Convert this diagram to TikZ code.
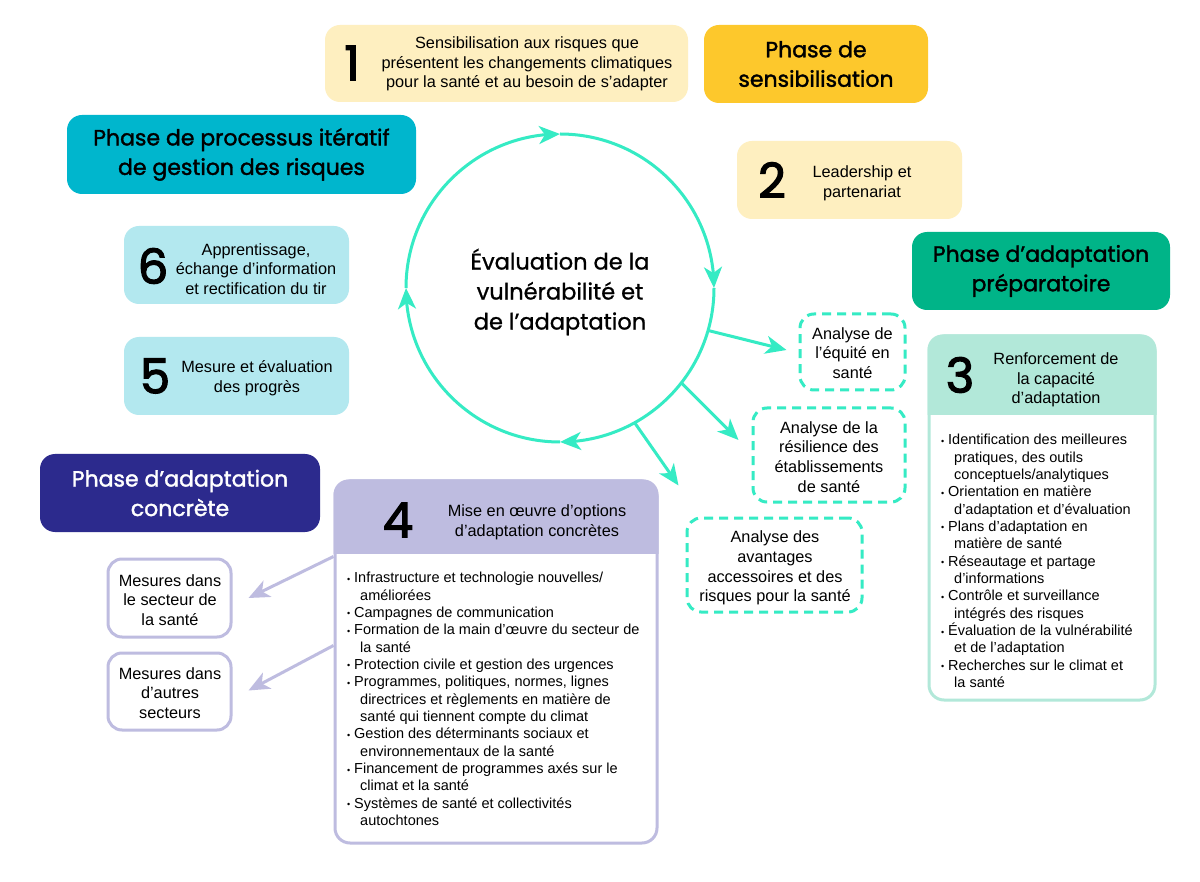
\documentclass[tikz,border=0pt]{standalone}
\usepackage{fontspec}
\setmainfont{Liberation Sans}
\newfontfamily\pop[FakeBold=1.0]{Poppins}
\newfontfamily\popm[FakeBold=1.6]{Poppins}
\newfontfamily\popn[FakeBold=2.6]{Poppins}
\usetikzlibrary{arrows.meta,calc,bending}
\definecolor{ylt}{HTML}{FEEFC0}
\definecolor{gold}{HTML}{FDC82C}
\definecolor{cyn}{HTML}{00B6CD}
\definecolor{grn}{HTML}{00B488}
\definecolor{cylt}{HTML}{B3E8EF}
\definecolor{mint}{HTML}{B2E8D9}
\definecolor{lav}{HTML}{BEBCE0}
\definecolor{indg}{HTML}{2C2A8D}
\definecolor{tq}{HTML}{35EBC4}
\newcommand\bu{\makebox[7pt][l]{\raisebox{0.5pt}{\fontsize{9}{9}\selectfont •}}}
\newcommand\ct{\hspace*{13pt}}
\tikzset{
  rbox/.style={rectangle, rounded corners=15pt, inner sep=0pt},
  phase/.style={rbox, font=\popm\fontsize{22}{29.5}\selectfont, align=center},
  num/.style={inner sep=0pt, font=\popn\fontsize{48}{48}\selectfont},
  txt/.style={inner sep=0pt, align=center, font=\fontsize{16.3}{19.7}\selectfont},
  blist/.style={inner sep=0pt, align=left, anchor=north west, font=\fontsize{14.5}{17.35}\selectfont},
  dbox/.style={rbox, draw=tq, fill=white, line width=3pt, dash pattern=on 9pt off 6pt, rounded corners=14pt},
  mbox/.style={rbox, draw=lav, fill=white, line width=3pt, rounded corners=14pt},
  tqline/.style={draw=tq, line width=3pt},
  lavline/.style={draw=lav, line width=3pt},
  tip/.style={-{Stealth[length=21pt,width=18pt,inset=6pt]}},
}
\begin{document}
\begin{tikzpicture}[x=1pt,y=-1pt]
\useasboundingbox[fill=white] (0,0) rectangle (1200,882);

% Phase headings
\node[phase, fill=gold, minimum width=224pt, minimum height=78pt] (ps) at (816,64) {Phase de\\sensibilisation};
\node[phase, fill=cyn, minimum width=349pt, minimum height=79pt] (pr) at (241.5,154.5) {Phase de processus itératif\\de gestion des risques};
\node[phase, fill=grn, minimum width=258pt, minimum height=78pt] (pp) at (1041,271) {Phase d’adaptation\\préparatoire};
\node[phase, fill=indg, text=white, minimum width=280pt, minimum height=78pt] (pc) at (180,493) {Phase d’adaptation\\concrète};

% Step 1
\node[rbox, fill=ylt, minimum width=363pt, minimum height=77pt] (b1) at (506.5,63.5) {};
\node[num] (n1) at (352,63) {1};
\node[txt] (t1) at (527,64) {Sensibilisation aux risques que\\présentent les changements climatiques\\pour la santé et au besoin de s’adapter};

% Step 2
\node[rbox, fill=ylt, minimum width=225pt, minimum height=78pt] (b2) at (849.5,180) {};
\node[num] (n2) at (772,180) {2};
\node[txt] (t2) at (862,183) {Leadership et\\partenariat};

% Step 6
\node[rbox, fill=cylt, minimum width=225pt, minimum height=78pt] (b6) at (236.5,265) {};
\node[num] (n6) at (153,266) {6};
\node[txt] (t6) at (256,269) {Apprentissage,\\échange d’information\\et rectification du tir};

% Step 5
\node[rbox, fill=cylt, minimum width=225pt, minimum height=78pt] (b5) at (236.5,376) {};
\node[num] (n5) at (155,376) {5};
\node[txt] (t5) at (257,378) {Mesure et évaluation\\des progrès};

% Central circle
\coordinate (cc) at (560,288);
\node[circle, minimum size=308pt, inner sep=0pt] (eval) at (cc) {};
\node[inner sep=0pt, align=center, font=\pop\fontsize{22.5}{30}\selectfont] (evaltxt) at (560,292) {Évaluation de la\\vulnérabilité et\\de l’adaptation};
\draw[tqline, tip] ([shift={(180:154)}]cc) arc[start angle=180, end angle=270, radius=154];
\draw[tqline, tip] ([shift={(270:154)}]cc) arc[start angle=270, end angle=360, radius=154];
\draw[tqline, tip] ([shift={(0:154)}]cc) arc[start angle=0, end angle=90, radius=154];
\draw[tqline, tip] ([shift={(90:154)}]cc) arc[start angle=90, end angle=180, radius=154];

% Dashed analysis boxes
\node[dbox, minimum width=105pt, minimum height=76pt] (eqa) at (852.5,352) {};
\node[txt] (teqa) at (852.5,353) {Analyse de\\l’équité en\\santé};
\node[dbox, minimum width=152pt, minimum height=94pt] (resi) at (829,455) {};
\node[txt] (tresi) at (829,457) {Analyse de la\\résilience des\\établissements\\de santé};
\node[dbox, minimum width=175pt, minimum height=94pt] (avs) at (774.5,565) {};
\node[txt] (tavs) at (775,568) {Analyse des\\avantages\\accessoires et des\\risques pour la santé};

\draw[tqline, tip] (eval.-16) -- ($(eqa.west)+(-12,-2)$);
\draw[tqline, tip] (eval.-38.5) -- ($(resi.west)+(-13,-15)$);
\draw[tqline, tip] (eval.-61) -- ($(avs.north west)+(-7,-31)$);

% Step 3
\node[rbox, draw=mint, fill=white, line width=3pt, minimum width=226pt, minimum height=364pt] (b3) at (1042,518) {};
\begin{scope}
\clip (b3.north west) rectangle ($(b3.north east)+(0,80)$);
\fill[mint, rounded corners=15pt] (b3.north west) rectangle (b3.south east);
\end{scope}
\node[num] (n3) at (960,375) {3};
\node[txt] (t3) at (1056,380) {Renforcement de\\la capacité\\d’adaptation};
\node[blist] (l3) at (941,434) {\bu Identification des meilleures\\
\ct pratiques, des outils\\
\ct conceptuels/analytiques\\
\bu Orientation en matière\\
\ct d’adaptation et d’évaluation\\
\bu Plans d’adaptation en\\
\ct matière de santé\\
\bu Réseautage et partage\\
\ct d’informations\\
\bu Contrôle et surveillance\\
\ct intégrés des risques\\
\bu Évaluation de la vulnérabilité\\
\ct et de l’adaptation\\
\bu Recherches sur le climat et\\
\ct la santé};

% Step 4
\node[rbox, draw=lav, fill=white, line width=3pt, minimum width=322pt, minimum height=362pt] (b4) at (496,662) {};
\begin{scope}
\clip (b4.north west) rectangle ($(b4.north east)+(0,74)$);
\fill[lav, rounded corners=15pt] (b4.north west) rectangle (b4.south east);
\end{scope}
\node[num] (n4) at (398,520) {4};
\node[txt] (t4) at (537,522) {Mise en œuvre d’options\\d’adaptation concrètes};
\node[blist] (l4) at (347,572) {\bu Infrastructure et technologie nouvelles/\\
\ct améliorées\\
\bu Campagnes de communication\\
\bu Formation de la main d’œuvre du secteur de\\
\ct la santé\\
\bu Protection civile et gestion des urgences\\
\bu Programmes, politiques, normes, lignes\\
\ct directrices et règlements en matière de\\
\ct santé qui tiennent compte du climat\\
\bu Gestion des déterminants sociaux et\\
\ct environnementaux de la santé\\
\bu Financement de programmes axés sur le\\
\ct climat et la santé\\
\bu Systèmes de santé et collectivités\\
\ct autochtones};

% Mesures boxes
\node[mbox, minimum width=123pt, minimum height=78pt] (mes1) at (169.5,598) {};
\node[txt] (tm1) at (170,600) {Mesures dans\\le secteur de\\la santé};
\node[mbox, minimum width=123pt, minimum height=77pt] (mes2) at (169.5,691.5) {};
\node[txt] (tm2) at (170,693) {Mesures dans\\d’autres\\secteurs};

\draw[lavline, tip] ($(b4.north west)+(0,77)$) -- ($(mes1.east)+(16,0)$);
\draw[lavline, tip] ($(b4.north west)+(0,166)$) -- ($(mes2.east)+(16,-1)$);
\end{tikzpicture}
\end{document}
